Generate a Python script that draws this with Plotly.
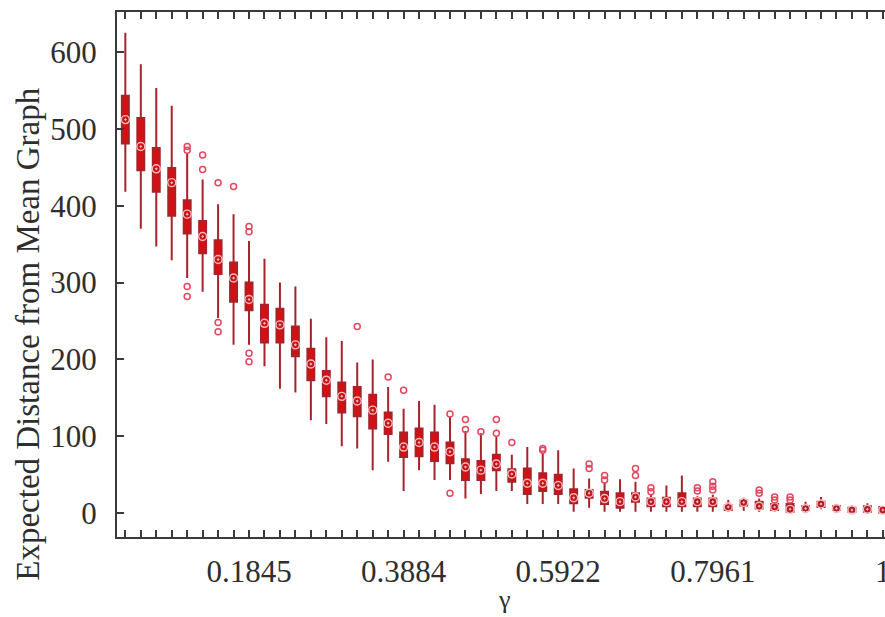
import plotly.graph_objects as go

# Box positions (one per gamma value) and the tick labels shown on the x axis
positions = list(range(1, 51))
tick_positions = [9, 19, 29, 39, 50]
tick_labels = ["0.1845", "0.3884", "0.5922", "0.7961", "1"]
y_ticks = [0, 100, 200, 300, 400, 500, 600]

# Box statistics
lower_whisker = [418, 370, 347, 329, 306, 288, 254, 219, 219, 191,
                 162, 157, 121, 116, 87, 84, 56, 67, 29, 56,
                 43, 43, 19, 25, 29, 29, 12, 12, 12, 2,
                 7, 2, 2, 2, 2, 2, 2, 2, 2, 2,
                 3, 2, 2, 0, 2, 5, 2, 1, 1, -1]
q1 = [481, 446, 418, 387, 364, 338, 311, 275, 264, 222,
      222, 204, 173, 152, 131, 126, 110, 103, 73, 74,
      68, 65, 43, 43, 56, 41, 25, 29, 25, 13,
      20, 12, 7, 15, 9, 9, 9, 9, 9, 4,
      10, 6, 4, 2, 4, 8, 4, 2, 2, 1]
median = [512, 477, 448, 430, 389, 360, 330, 306, 278, 247,
          245, 219, 194, 173, 152, 146, 134, 117, 86, 92,
          86, 80, 60, 56, 64, 51, 39, 39, 36, 20,
          26, 19, 15, 21, 15, 15, 15, 15, 15, 8,
          14, 9, 8, 5, 6, 12, 6, 4, 5, 4]
q3 = [543, 514, 475, 449, 407, 380, 355, 326, 300, 271,
      266, 243, 214, 185, 170, 164, 154, 131, 105, 110,
      105, 92, 70, 68, 76, 57, 58, 52, 50, 31,
      30, 28, 26, 26, 19, 20, 26, 19, 19, 10,
      16, 15, 12, 12, 9, 15, 9, 7, 9, 8]
upper_whisker = [625, 584, 553, 530, 468, 434, 402, 389, 354, 331,
                 300, 295, 253, 229, 224, 196, 200, 164, 136, 146,
                 141, 125, 107, 104, 99, 76, 86, 78, 82, 58,
                 45, 40, 44, 41, 25, 36, 49, 22, 24, 17,
                 20, 19, 14, 14, 15, 21, 10, 10, 13, 9]

# Outliers: box position and value
outlier_pos = [5, 5, 5, 5, 6, 6, 7, 7, 7, 8,
               9, 9, 9, 9, 16, 18, 19, 22, 22, 23,
               23, 24, 25, 25, 26, 28, 28, 31, 31, 32,
               32, 34, 34, 35, 35, 38, 38, 39, 39, 39,
               42, 42, 43, 43, 44, 44]
outlier_val = [477, 472, 295, 282, 466, 447, 430, 248, 236, 425,
               373, 366, 208, 197, 243, 177, 160, 129, 26, 122,
               109, 106, 122, 104, 92, 82, 84, 64, 58, 49,
               43, 58, 49, 33, 28, 33, 29, 41, 35, 30,
               30, 26, 21, 17, 21, 17]

FONT = "Liberation Serif, Times New Roman, serif"
AXIS_COLOR = "#3a3a3a"
TEXT_COLOR = "#2e2e2e"

fig = go.Figure()

fig.add_trace(go.Box(
    x=positions,
    q1=q1, median=median, q3=q3,
    lowerfence=lower_whisker, upperfence=upper_whisker,
    width=0.45,
    whiskerwidth=0,
    fillcolor="rgb(214,16,16)",
    line=dict(color="rgb(165,35,45)", width=2),
    boxpoints=False,
    showlegend=False,
))

fig.add_trace(go.Scatter(
    x=positions, y=median, mode="markers",
    marker=dict(symbol="circle-open-dot", size=8,
                color="rgb(255,185,190)", line=dict(width=1.4)),
    showlegend=False,
))

fig.add_trace(go.Scatter(
    x=outlier_pos, y=outlier_val, mode="markers",
    marker=dict(symbol="circle-open", size=6,
                color="rgb(228,70,95)", line=dict(width=1.5)),
    showlegend=False,
))

fig.update_layout(
    width=885, height=617,
    margin=dict(l=117, r=0, t=12, b=80, autoexpand=False),
    paper_bgcolor="white", plot_bgcolor="white",
    font=dict(family=FONT, color=TEXT_COLOR, size=31),
    showlegend=False,
)

fig.update_xaxes(
    range=[0.46, 50.14],
    automargin=False,
    tickmode="array",
    tickvals=positions,
    ticktext=[tick_labels[tick_positions.index(p)] if p in tick_positions else "" for p in positions],
    ticks="inside", ticklen=7, tickwidth=1.5, tickcolor=AXIS_COLOR,
    showline=True, linecolor=AXIS_COLOR, linewidth=2,
    mirror="ticks",
    showgrid=False, zeroline=False,
    tickfont=dict(family=FONT, size=31, color=TEXT_COLOR),
    ticklabelstandoff=6,
    ticklabeloverflow="allow",
)

fig.update_yaxes(
    range=[-31, 652],
    automargin=False,
    tickmode="array", tickvals=y_ticks,
    ticks="inside", ticklen=7, tickwidth=1.5, tickcolor=AXIS_COLOR,
    showline=True, linecolor=AXIS_COLOR, linewidth=2,
    showgrid=False, zeroline=False,
    tickfont=dict(family=FONT, size=31, color=TEXT_COLOR),
    ticklabelstandoff=12,
)

fig.add_annotation(
    text="Expected Distance from Mean Graph",
    xref="paper", yref="paper", x=-0.116, y=0.387,
    xanchor="center", yanchor="middle", textangle=-90,
    showarrow=False, font=dict(family=FONT, size=33, color=TEXT_COLOR),
)
fig.add_annotation(
    text="γ",
    xref="paper", yref="paper", x=0.505, y=-0.088,
    xanchor="center", yanchor="top",
    showarrow=False, font=dict(family=FONT, size=26, color=TEXT_COLOR),
)

fig.write_html(
    "out.html",
    config={"displayModeBar": False},
    post_script="document.body.style.margin='0';document.body.style.overflow='hidden';",
)
